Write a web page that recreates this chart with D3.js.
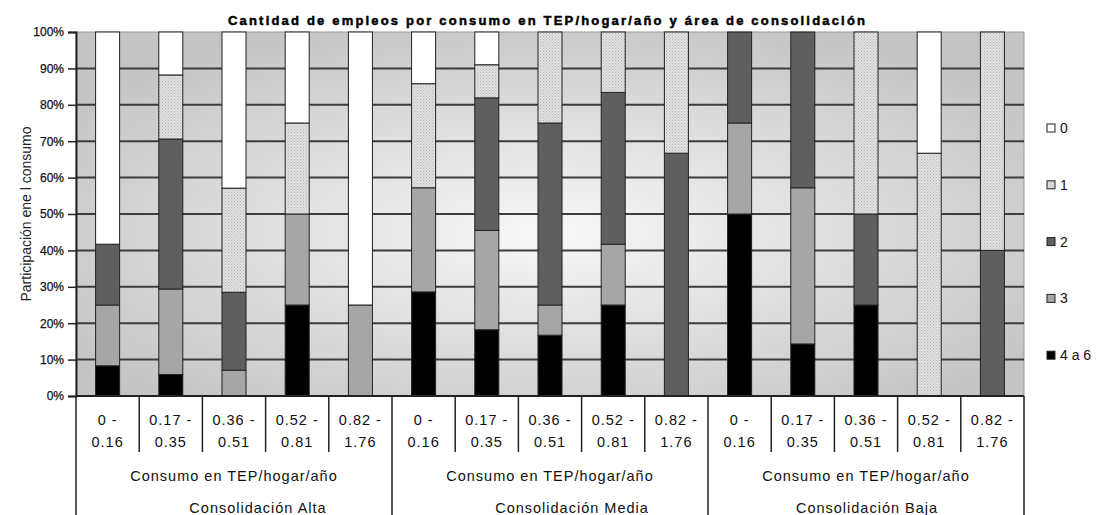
<!DOCTYPE html>
<html>
<head>
<meta charset="utf-8">
<script src="https://cdn.jsdelivr.net/npm/d3@7"></script>
<style>
  body { margin: 0; background: #fff; }
  svg { display: block; font-family: "Liberation Sans", Arial, sans-serif; }
</style>
</head>
<body>
<div id="chart"></div>
<script>
// grupos y rangos de consumo (TEP/hogar/año)
var groups = ["Consolidación Alta", "Consolidación Media", "Consolidación Baja"]
var ranges = [["0 -", "0.16"], ["0.17 -", "0.35"], ["0.36 -", "0.51"], ["0.52 -", "0.81"], ["0.82 -", "1.76"]]

// participación (%) por cantidad de empleos, en el orden grupo x rango
var empleos0 = [58.3, 11.8, 42.9, 25, 75, 14.3, 9.1, 0, 0, 0, 0, 0, 0, 33.3, 0]
var empleos1 = [0, 17.6, 28.6, 25, 0, 28.6, 9.1, 25, 16.7, 33.3, 0, 0, 50, 66.7, 60]
var empleos2 = [16.7, 41.2, 21.4, 0, 0, 0, 36.4, 50, 41.7, 66.7, 25, 42.9, 25, 0, 40]
var empleos3 = [16.7, 23.5, 7.1, 25, 25, 28.6, 27.3, 8.3, 16.7, 0, 25, 42.9, 0, 0, 0]
var empleos4a6 = [8.3, 5.9, 0, 25, 0, 28.6, 18.2, 16.7, 25, 0, 50, 14.3, 25, 0, 0]

var legendKeys = ["0", "1", "2", "3", "4 a 6"]
var yTicks = [0, 10, 20, 30, 40, 50, 60, 70, 80, 90, 100]

var fullWidth = 1101;
var fullHeight = 515;
var plot = {left: 76, right: 1024, top: 32, bottom: 396};

// construir filas para d3.stack
var rows = [];
for (var g = 0; g < groups.length; g++) {
  for (var r = 0; r < ranges.length; r++) {
    var i = g * ranges.length + r;
    rows.push({
      id: i, group: groups[g], range: ranges[r],
      "0": empleos0[i], "1": empleos1[i], "2": empleos2[i], "3": empleos3[i], "4 a 6": empleos4a6[i]
    });
  }
}

var stackOrder = ["4 a 6", "3", "2", "1", "0"];
var series = d3.stack().keys(stackOrder)(rows);

var fills = {"0": "#ffffff", "1": "url(#dots)", "2": "#5f5f5f", "3": "#a6a6a6", "4 a 6": "#000000"};

var x = d3.scaleBand()
  .domain(rows.map(function(d) { return d.id; }))
  .range([plot.left, plot.right])
  .paddingInner(0.62)
  .paddingOuter(0.31);
var y = d3.scaleLinear().domain([0, 100]).range([plot.bottom, plot.top]).clamp(true);

var svg = d3.select("#chart").append("svg")
  .attr("width", fullWidth)
  .attr("height", fullHeight);

var defs = svg.append("defs");
var grad = defs.append("radialGradient")
  .attr("id", "bg").attr("cx", "50%").attr("cy", "55%").attr("r", "62%");
grad.append("stop").attr("offset", "0%").attr("stop-color", "#f8f8f8");
grad.append("stop").attr("offset", "100%").attr("stop-color", "#c4c4c4");

var pat = defs.append("pattern")
  .attr("id", "dots").attr("width", 3).attr("height", 3)
  .attr("patternUnits", "userSpaceOnUse");
pat.append("rect").attr("width", 3).attr("height", 3).attr("fill", "#e2e2e2");
pat.append("rect").attr("x", 0).attr("y", 0).attr("width", 1).attr("height", 1).attr("fill", "#b4b4b4");
pat.append("rect").attr("x", 1.5).attr("y", 1.5).attr("width", 1).attr("height", 1).attr("fill", "#bcbcbc");

// fondo del área de trazado
svg.append("rect")
  .attr("x", plot.left).attr("y", plot.top)
  .attr("width", plot.right - plot.left).attr("height", plot.bottom - plot.top)
  .attr("fill", "url(#bg)")
  .attr("stroke", "#9a9a9a").attr("stroke-width", 1);

// líneas de división
svg.append("g").selectAll("line")
  .data(yTicks.slice(1, -1))
  .enter().append("line")
    .attr("x1", plot.left).attr("x2", plot.right)
    .attr("y1", function(d) { return y(d); })
    .attr("y2", function(d) { return y(d); })
    .attr("stroke", "#3c3c3c").attr("stroke-width", 2);

// barras apiladas
svg.append("g").selectAll("g")
  .data(series)
  .enter().append("g")
    .attr("fill", function(s) { return fills[s.key]; })
  .selectAll("rect")
  .data(function(s) { return s.filter(function(d) { return d[1] - d[0] > 0; }); })
  .enter().append("rect")
    .attr("x", function(d) { return x(d.data.id); })
    .attr("y", function(d) { return y(d[1]); })
    .attr("width", x.bandwidth())
    .attr("height", function(d) { return y(d[0]) - y(d[1]); })
    .attr("stroke", "#222")
    .attr("stroke-width", 1);

// eje y
var yAxis = svg.append("g")
  .attr("transform", "translate(" + plot.left + ",0)")
  .call(d3.axisLeft(y).tickValues(yTicks).tickSize(8).tickPadding(4)
    .tickFormat(function(d) { return d + "%"; }));
yAxis.select(".domain").attr("stroke", "#222").attr("stroke-width", 2);
yAxis.selectAll(".tick line").attr("stroke", "#222").attr("stroke-width", 1.5);
yAxis.selectAll(".tick text")
  .attr("font-size", 12).attr("fill", "#111")
  .attr("stroke", "#111").attr("stroke-width", 0.25)
  .attr("font-family", "'Liberation Sans', Arial, sans-serif");

// línea de 0%
svg.append("line")
  .attr("x1", plot.left).attr("x2", plot.right)
  .attr("y1", plot.bottom).attr("y2", plot.bottom)
  .attr("stroke", "#222").attr("stroke-width", 2);

svg.append("text")
  .attr("transform", "translate(26," + ((plot.top + plot.bottom) / 2) + ") rotate(-90)")
  .attr("text-anchor", "middle")
  .attr("dy", "0.35em")
  .attr("font-size", 14)
  .attr("fill", "#222")
  .text("Participación ene l consumo");

// tabla de categorías bajo el eje x
var step = x.step();
var tbl = svg.append("g");
var catBoundaries = d3.range(1, rows.length).filter(function(i) { return i % ranges.length != 0; });
tbl.selectAll(".catline")
  .data(catBoundaries)
  .enter().append("line")
    .attr("x1", function(i) { return plot.left + i * step; })
    .attr("x2", function(i) { return plot.left + i * step; })
    .attr("y1", plot.bottom).attr("y2", 452)
    .attr("stroke", "#222").attr("stroke-width", 1.5);

tbl.selectAll(".grpline")
  .data(d3.range(groups.length + 1))
  .enter().append("line")
    .attr("x1", function(g) { return plot.left + g * ranges.length * step; })
    .attr("x2", function(g) { return plot.left + g * ranges.length * step; })
    .attr("y1", plot.bottom).attr("y2", fullHeight)
    .attr("stroke", "#222").attr("stroke-width", 1.5);

var catText = tbl.selectAll(".cat")
  .data(rows)
  .enter().append("text")
    .attr("text-anchor", "middle")
    .attr("font-size", 14.5)
    .attr("letter-spacing", 1)
    .attr("fill", "#111");
catText.append("tspan")
  .attr("x", function(d) { return x(d.id) + x.bandwidth() / 2; })
  .attr("y", 425)
  .text(function(d) { return d.range[0]; });
catText.append("tspan")
  .attr("x", function(d) { return x(d.id) + x.bandwidth() / 2; })
  .attr("y", 447)
  .text(function(d) { return d.range[1]; });

var groupLabelShift = [24, 22, 1];
groups.forEach(function(name, g) {
  var cx = plot.left + (g + 0.5) * ranges.length * step;
  tbl.append("text")
    .attr("x", cx).attr("y", 481)
    .attr("text-anchor", "middle")
    .attr("font-size", 14.5).attr("letter-spacing", 1)
    .attr("fill", "#111")
    .text("Consumo en TEP/hogar/año");
  tbl.append("text")
    .attr("x", cx + groupLabelShift[g]).attr("y", 513)
    .attr("text-anchor", "middle")
    .attr("font-size", 14.5).attr("letter-spacing", 1)
    .attr("fill", "#111")
    .text(name);
});

// título
svg.append("text")
  .attr("x", 228).attr("y", 25)
  .attr("font-size", 13).attr("font-weight", "bold")
  .attr("stroke", "#000").attr("stroke-width", 0.5)
  .attr("textLength", 637).attr("lengthAdjust", "spacing")
  .attr("fill", "#000")
  .text("Cantidad de empleos por consumo en TEP/hogar/año y área de consolidación");

// leyenda
var legend = svg.append("g").selectAll("g")
  .data(legendKeys)
  .enter().append("g")
    .attr("transform", function(d, i) { return "translate(1047," + (128 + i * 56.8) + ")"; });
legend.append("rect")
  .attr("x", 0).attr("y", -4).attr("width", 8).attr("height", 8)
  .attr("fill", function(d) { return fills[d]; })
  .attr("stroke", "#222").attr("stroke-width", 1);
legend.append("text")
  .attr("x", 13).attr("dy", "0.35em")
  .attr("font-size", 14).attr("fill", "#111")
  .text(function(d) { return d; });
</script>
</body>
</html>
